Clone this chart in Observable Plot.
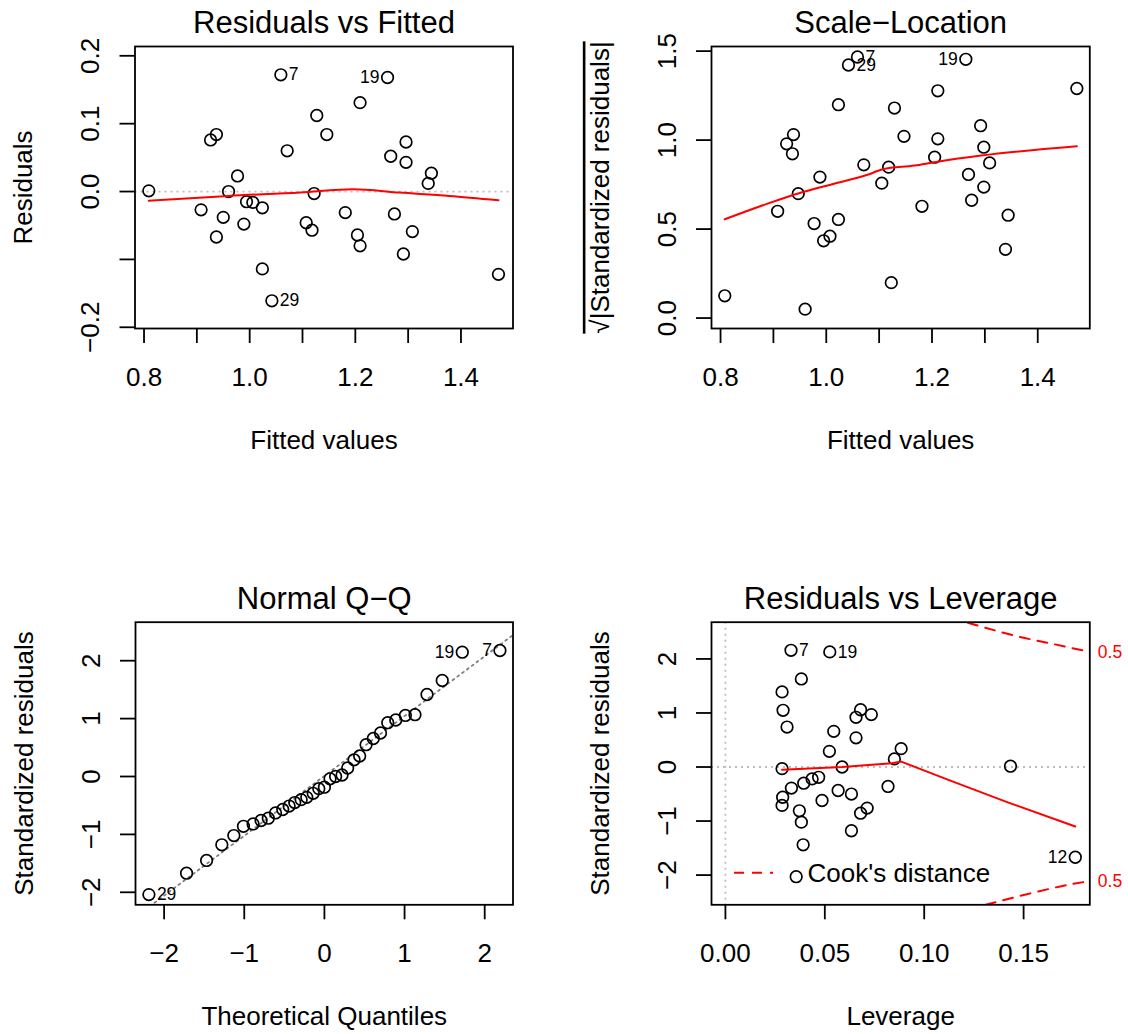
<!DOCTYPE html>
<html><head><meta charset="utf-8">
<script src="https://cdn.jsdelivr.net/npm/d3@7"></script>
<script src="https://cdn.jsdelivr.net/npm/@observablehq/plot@0.6"></script>
<style>
body{margin:0;background:#fff;}
#wrap{position:relative;width:1128px;height:1034px;background:#fff;overflow:hidden;}
.panel{position:absolute;width:564px;height:517px;}
</style></head><body><div id="wrap"></div>
<script>
// ---------- Panel 1: Residuals vs Fitted ----------
const fitted1 = [0.809, 1.059, 0.926, 0.937, 1.071, 0.977, 0.960, 1.122, 0.994, 1.006, 1.024, 0.908, 0.950, 0.989, 0.937, 1.024, 1.042, 1.107, 1.118, 1.127, 1.261, 1.209, 1.146, 1.296, 1.267, 1.296, 1.344, 1.338, 1.181, 1.274, 1.204, 1.209, 1.308, 1.291, 1.471];
const resid1 = [0.001, 0.172, 0.076, 0.084, 0.060, 0.023, 0.000, -0.003, -0.015, -0.016, -0.024, -0.027, -0.038, -0.048, -0.067, -0.114, -0.161, -0.046, -0.057, 0.112, 0.168, 0.131, 0.084, 0.073, 0.052, 0.043, 0.027, 0.012, -0.031, -0.033, -0.064, -0.080, -0.059, -0.092, -0.122];
const ids1 = ["", "7", "", "", "", "", "", "", "", "", "", "", "", "", "", "", "29", "", "", "", "19", "", "", "", "", "", "", "", "", "", "", "", "", "", ""];
const smoothX1 = [0.809, 0.960, 1.096, 1.196, 1.284, 1.378, 1.471];
const smoothY1 = [-0.0137, -0.0064, -0.0015, 0.0035, -0.0015, -0.0064, -0.0127];

// ---------- Panel 2: Scale-Location ----------
const fitted2 = [0.808, 0.960, 0.908, 0.947, 0.925, 0.938, 0.936, 0.988, 0.977, 0.995, 1.007, 1.023, 1.023, 1.042, 1.059, 1.071, 1.105, 1.118, 1.123, 1.129, 1.147, 1.211, 1.264, 1.205, 1.211, 1.181, 1.292, 1.298, 1.309, 1.269, 1.298, 1.275, 1.344, 1.339, 1.474];
const sqrtStd2 = [0.125, 0.050, 0.600, 0.699, 0.979, 1.031, 0.923, 0.792, 0.531, 0.434, 0.460, 0.554, 1.199, 1.422, 1.467, 0.861, 0.758, 0.848, 0.199, 1.180, 1.021, 1.277, 1.454, 0.904, 1.007, 0.628, 1.081, 0.960, 0.872, 0.807, 0.736, 0.662, 0.578, 0.386, 1.290];
const ids2 = ["", "", "", "", "", "", "", "", "", "", "", "", "", "29", "7", "", "", "", "", "", "", "", "19", "", "", "", "", "", "", "", "", "", "", "", ""];
const smoothX2 = [0.808, 0.889, 0.947, 1.015, 1.078, 1.107, 1.167, 1.205, 1.293, 1.474];
const smoothY2 = [0.555, 0.643, 0.700, 0.755, 0.805, 0.836, 0.857, 0.876, 0.913, 0.966];

// ---------- Panel 3: Normal Q-Q ----------
const theo3 = [-2.19, -1.72, -1.47, -1.28, -1.13, -1.01, -0.89, -0.79, -0.70, -0.61, -0.52, -0.44, -0.37, -0.29, -0.22, -0.14, -0.07, 0.00, 0.07, 0.14, 0.22, 0.29, 0.37, 0.44, 0.52, 0.61, 0.70, 0.79, 0.89, 1.01, 1.13, 1.28, 1.47, 1.72, 2.19];
const std3 = [-2.04, -1.67, -1.45, -1.18, -1.02, -0.86, -0.82, -0.76, -0.72, -0.63, -0.57, -0.51, -0.45, -0.40, -0.36, -0.29, -0.21, -0.185, -0.04, 0.00, 0.026, 0.147, 0.288, 0.354, 0.549, 0.656, 0.751, 0.929, 0.976, 1.054, 1.067, 1.416, 1.658, 2.147, 2.176];
const ids3 = ["29", "", "", "", "", "", "", "", "", "", "", "", "", "", "", "", "", "", "", "", "", "", "", "", "", "", "", "", "", "", "", "", "", "19", "7"];
const qqLineX = [-2.36, 2.36];
const qqLineY = [-2.43, 2.45];

// ---------- Panel 4: Residuals vs Leverage ----------
const lev4 = [0.033, 0.0525, 0.0382, 0.0285, 0.029, 0.031, 0.068, 0.0657, 0.0734, 0.0545, 0.0657, 0.0523, 0.0285, 0.0587, 0.0818, 0.0332, 0.0394, 0.0436, 0.0469, 0.0288, 0.0285, 0.0567, 0.0634, 0.0486, 0.0372, 0.0382, 0.0713, 0.068, 0.0634, 0.0391, 0.0884, 0.085, 0.1434, 0.176, 0.0356];
const std4 = [2.16, 2.13, 1.63, 1.39, 1.05, 0.74, 1.06, 0.92, 0.97, 0.66, 0.54, 0.29, -0.03, 0.00, -0.36, -0.39, -0.30, -0.22, -0.19, -0.56, -0.71, -0.435, -0.50, -0.62, -0.81, -1.02, -0.76, -0.855, -1.18, -1.44, 0.34, 0.15, 0.015, -1.67, -2.03];
const ids4 = ["7", "19", "", "", "", "", "", "", "", "", "", "", "", "", "", "", "", "", "", "", "", "", "", "", "", "", "", "", "", "", "", "", "", "12", ""];
const smoothX4 = [0.0285, 0.0587, 0.0838, 0.0884, 0.1115, 0.1417, 0.176];
const smoothY4 = [-0.05, 0.00, 0.07, 0.10, -0.23, -0.65, -1.10];
const cookTopX = [0.1219, 0.145, 0.1618, 0.1833];
const cookTopY = [2.67, 2.435, 2.30, 2.13];
const cookBotX = [0.1310, 0.150, 0.1685, 0.1833];
const cookBotY = [-2.55, -2.37, -2.21, -2.11];
const cookLevels = ["0.5", "0.5"];
const cookLabelY = [2.13, -2.11];

// ---------- ticks ----------
const fvTicks = [0.8, 0.9, 1.0, 1.1, 1.2, 1.3, 1.4];
const fvTickLabels = ["0.8", "", "1.0", "", "1.2", "", "1.4"];
const resTicks = [-0.2, -0.1, 0.0, 0.1, 0.2];
const resTickLabels = ["\u22120.2", "", "0.0", "0.1", "0.2"];
const slTicks = [0.0, 0.5, 1.0, 1.5];
const slTickLabels = ["0.0", "0.5", "1.0", "1.5"];
const intTicks = [-2, -1, 0, 1, 2];
const intTickLabels = ["\u22122", "\u22121", "0", "1", "2"];
const levTicks = [0.00, 0.05, 0.10, 0.15];
const levTickLabels = ["0.00", "0.05", "0.10", "0.15"];

const FONT = '"Liberation Sans", Arial, Helvetica, sans-serif';
const RED = "#ff0000";
const zip = (xs, ys, ids) => xs.map((x, i) => ({x, y: ys[i], id: ids ? ids[i] : ""}));

function pointLabels(pts, xMid) {
  const labelled = pts.filter(d => d.id !== "");
  return [
    Plot.text(labelled.filter(d => d.x < xMid), {x: "x", y: "y", text: "id", dx: 8, textAnchor: "start", fontSize: 17.5}),
    Plot.text(labelled.filter(d => d.x >= xMid), {x: "x", y: "y", text: "id", dx: -8, textAnchor: "end", fontSize: 17.5})
  ];
}

function panel(o) {
  const xLab = o.xTicks.map((v, i) => ({v, t: o.xTickLabels[i]})).filter(d => d.t !== "");
  const yLab = o.yTicks.map((v, i) => ({v, t: o.yTickLabels[i]})).filter(d => d.t !== "");
  const chart = Plot.plot({
    width: 564, height: 517,
    marginLeft: o.mL, marginRight: o.mR, marginTop: o.mT, marginBottom: o.mB,
    x: {domain: o.xDomain}, y: {domain: o.yDomain},
    style: {fontFamily: FONT, background: "transparent", overflow: "visible", color: "black"},
    marks: [
      ...o.marks,
      Plot.frame({stroke: "black", strokeWidth: 1.8}),
      Plot.axisX({ticks: o.xTicks, tickSize: 15, tickFormat: () => "", label: null, strokeWidth: 1.8}),
      Plot.axisY({ticks: o.yTicks, tickSize: 15, tickFormat: () => "", label: null, strokeWidth: 1.8}),
      Plot.text(xLab, {x: "v", text: "t", frameAnchor: "bottom", dy: 49, fontSize: 26, textAnchor: "middle", lineAnchor: "middle"}),
      Plot.text(yLab, {y: "v", text: "t", frameAnchor: "left", dx: -44, rotate: -90, fontSize: 26, textAnchor: "middle", lineAnchor: "middle"}),
      Plot.text([o.title], {text: d => d, frameAnchor: "top", dy: -23, fontSize: 31, textAnchor: "middle", lineAnchor: "middle"}),
      Plot.text([o.xLabel], {text: d => d, frameAnchor: "bottom", dy: 112, fontSize: 26, textAnchor: "middle", lineAnchor: "middle"}),
      Plot.text([o.yLabel], {text: d => d, frameAnchor: "left", dx: -111, rotate: -90, fontSize: 26, textAnchor: "middle", lineAnchor: "middle"})
    ]
  });
  const div = document.createElement("div");
  div.className = "panel";
  div.style.left = o.left + "px";
  div.style.top = o.top + "px";
  div.appendChild(chart);
  document.getElementById("wrap").appendChild(div);
  return chart;
}

const dotOpts = {x: "x", y: "y", r: 5.8, stroke: "black", strokeWidth: 1.7, fill: "none"};
const fvDomain = [0.7829, 1.4985];

// Panel 1
const p1 = zip(fitted1, resid1, ids1);
panel({
  left: 0, top: 0, mL: 134.5, mR: 51.5, mT: 46, mB: 189,
  xDomain: fvDomain, yDomain: [-0.2018, 0.2137],
  xTicks: fvTicks, xTickLabels: fvTickLabels, yTicks: resTicks, yTickLabels: resTickLabels,
  title: "Residuals vs Fitted", xLabel: "Fitted values", yLabel: "Residuals",
  marks: [
    Plot.ruleY([0], {stroke: "#bebebe", strokeWidth: 1.8, strokeDasharray: "2,4"}),
    Plot.dot(p1, dotOpts),
    Plot.line(zip(smoothX1, smoothY1), {x: "x", y: "y", stroke: RED, strokeWidth: 2, curve: "monotone-x"}),
    ...pointLabels(p1, 1.14)
  ]
});

// Panel 2
const p2 = zip(fitted2, sqrtStd2, ids2);
const c2 = panel({
  left: 564, top: 0, mL: 147, mR: 38.7, mT: 46, mB: 189,
  xDomain: fvDomain, yDomain: [-0.0587, 1.526],
  xTicks: fvTicks, xTickLabels: fvTickLabels, yTicks: slTicks, yTickLabels: slTickLabels,
  title: "Scale\u2212Location", xLabel: "Fitted values", yLabel: "\u221A|Standardized residuals|",
  marks: [
    Plot.dot(p2, dotOpts),
    Plot.line(zip(smoothX2, smoothY2), {x: "x", y: "y", stroke: RED, strokeWidth: 2, curve: "monotone-x"}),
    ...pointLabels(p2, 1.14)
  ]
});

// Panel 3
const p3 = zip(theo3, std3, ids3);
panel({
  left: 0, top: 517, mL: 135, mR: 51.5, mT: 104.7, mB: 129.7,
  xDomain: [-2.357, 2.353], yDomain: [-2.216, 2.665],
  xTicks: intTicks, xTickLabels: intTickLabels, yTicks: intTicks, yTickLabels: intTickLabels,
  title: "Normal Q\u2212Q", xLabel: "Theoretical Quantiles", yLabel: "Standardized residuals",
  marks: [
    Plot.line(zip(qqLineX, qqLineY), {x: "x", y: "y", stroke: "#7f7f7f", strokeWidth: 1.8, strokeDasharray: "2,4", clip: true}),
    Plot.dot(p3, dotOpts),
    ...pointLabels(p3, 0)
  ]
});

// Panel 4
const p4 = zip(lev4, std4, ids4);
const c4 = panel({
  left: 564, top: 517, mL: 147, mR: 38.7, mT: 104.7, mB: 129.7,
  xDomain: [-0.0070, 0.1833], yDomain: [-2.55, 2.68],
  xTicks: levTicks, xTickLabels: levTickLabels, yTicks: intTicks, yTickLabels: intTickLabels,
  title: "Residuals vs Leverage", xLabel: "Leverage", yLabel: "Standardized residuals",
  marks: [
    Plot.ruleY([0], {stroke: "#bebebe", strokeWidth: 1.8, strokeDasharray: "2,4"}),
    Plot.ruleX([0], {stroke: "#bebebe", strokeWidth: 1.8, strokeDasharray: "2,4"}),
    Plot.dot(p4, dotOpts),
    Plot.line(zip(smoothX4, smoothY4), {x: "x", y: "y", stroke: RED, strokeWidth: 2}),
    Plot.line(zip(cookTopX, cookTopY), {x: "x", y: "y", stroke: RED, strokeWidth: 2, strokeDasharray: "10,8", curve: "natural", clip: true}),
    Plot.line(zip(cookBotX, cookBotY), {x: "x", y: "y", stroke: RED, strokeWidth: 2, strokeDasharray: "10,8", curve: "natural", clip: true}),
    Plot.text(cookLabelY.map((y, i) => ({y, t: cookLevels[i]})), {x: () => 0.1833, y: "y", text: "t", dx: 8, textAnchor: "start", fill: RED, fontSize: 17.5}),
    Plot.text(["Cook's distance"], {text: d => d, frameAnchor: "bottom-left", dx: 96, dy: -31.6, textAnchor: "start", fontSize: 26, lineAnchor: "middle"}),
    ...pointLabels(p4, 0.088)
  ]
});

// legend key line for Cook's distance (decoration)
d3.select(c4).append("line")
  .attr("x1", 147 + 23).attr("x2", 147 + 62)
  .attr("y1", 517 - 129.7 - 31.6).attr("y2", 517 - 129.7 - 31.6)
  .attr("stroke", RED).attr("stroke-width", 2).attr("stroke-dasharray", "10,8");

// overline for the sqrt label
d3.select(c2).selectAll("text").filter(function() { return this.textContent.startsWith("\u221A"); })
  .style("text-decoration", "overline");
</script>
</body></html>
